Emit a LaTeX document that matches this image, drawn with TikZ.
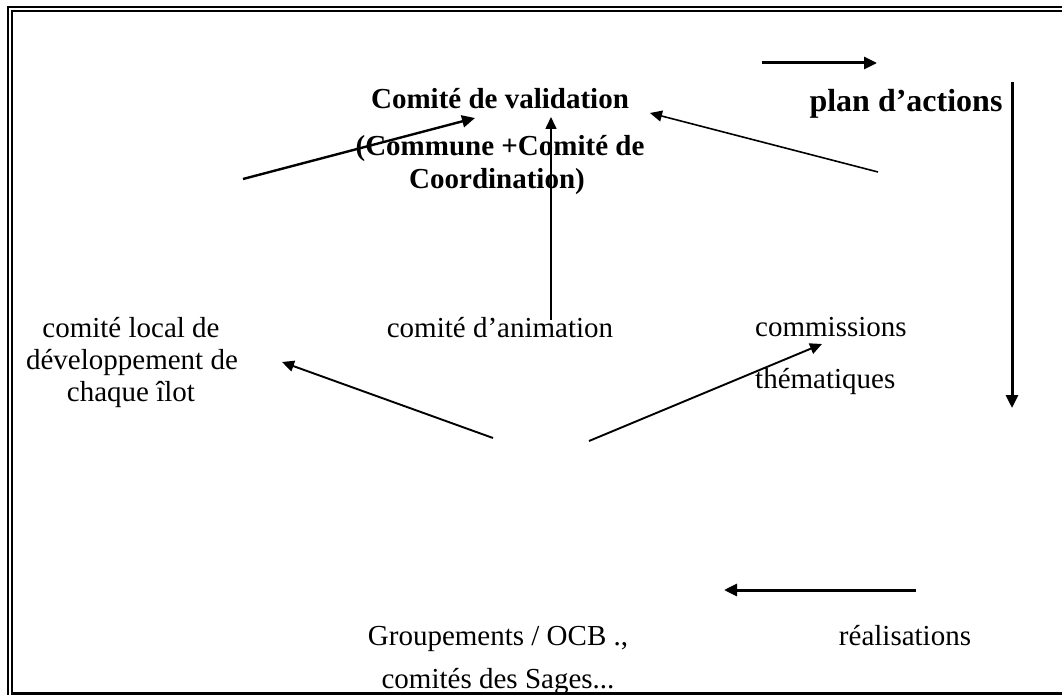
\documentclass[tikz,border=0pt]{standalone}
\usepackage{fontspec}
\setmainfont{Liberation Serif}
\usetikzlibrary{arrows.meta}
\begin{document}
\begin{tikzpicture}[x=1pt,y=-1pt,
  lbl/.style={inner sep=0pt, anchor=base, font=\fontsize{29}{32}\selectfont},
  boldlbl/.style={inner sep=0pt, anchor=base, font=\fontsize{29}{32}\selectfont\bfseries},
  heavyarrow/.style={line width=3pt, -{Triangle[length=13pt,width=12pt]}},
  midarrow/.style={line width=2.4pt, -{Triangle[length=13pt,width=12pt]}},
  lightarrow/.style={line width=1.6pt, -{Triangle[length=12pt,width=11pt]}},
  frameline/.style={line width=2pt}
]
\useasboundingbox (0,0) rectangle (1062,695);

% frame
\draw[frameline] (7.7,695) -- (7.7,6.8) -- (1062,6.8);
\draw[frameline] (11.8,692) -- (11.8,10.8) -- (1062,10.8);
\draw[line width=2.6pt] (10.8,693.4) -- (1062,693.4);

% texts
\node[boldlbl] (val1) at (500,109) {Comité de validation};
\node[boldlbl] (val2) at (500,156) {(Commune +Comité de};
\node[boldlbl] (val3) at (497,189) {Coordination)};
\node[boldlbl, font=\fontsize{32}{36}\selectfont\bfseries] (plan) at (906,112) {plan d’actions};

\node[lbl] (loc1) at (131,337) {comité local de};
\node[lbl] (loc2) at (132,369) {développement de};
\node[lbl] (loc3) at (131,401) {chaque îlot};
\node[lbl] (anim) at (500,337) {comité d’animation};
\node[lbl, anchor=base west] (comm1) at (755,336) {commissions};
\node[lbl, anchor=base west] (comm2) at (755,388) {thématiques};

\node[lbl] (grp1) at (498,645) {Groupements / OCB .,};
\node[lbl] (grp2) at (498,688) {comités des Sages...};
\node[lbl] (real) at (905,645) {réalisations};

% arrow end points
\coordinate (a1s) at (762,63);   \coordinate (a1e) at (877,63);
\coordinate (a2s) at (1012,82);  \coordinate (a2e) at (1012,408);
\coordinate (a3s) at (916,590);  \coordinate (a3e) at (724,590);
\coordinate (a4s) at (243,179);  \coordinate (a4e) at (475,118);
\coordinate (a5s) at (551,320);  \coordinate (a5e) at (551,117);
\coordinate (a6s) at (878,172);  \coordinate (a6e) at (650,113);
\coordinate (a7s) at (493,438);  \coordinate (a7e) at (282,362);
\coordinate (a8s) at (589,441);  \coordinate (a8e) at (822,344);

% arrows
\draw[heavyarrow] (a1s) -- (a1e);
\draw[heavyarrow] (a2s) -- (a2e);
\draw[heavyarrow] (a3s) -- (a3e);
\draw[midarrow] (a4s) -- (a4e);
\draw[lightarrow] (a5s) -- (a5e);
\draw[lightarrow] (a6s) -- (a6e);
\draw[lightarrow, line width=1.9pt] (a7s) -- (a7e);
\draw[lightarrow, line width=1.9pt] (a8s) -- (a8e);
\end{tikzpicture}
\end{document}
